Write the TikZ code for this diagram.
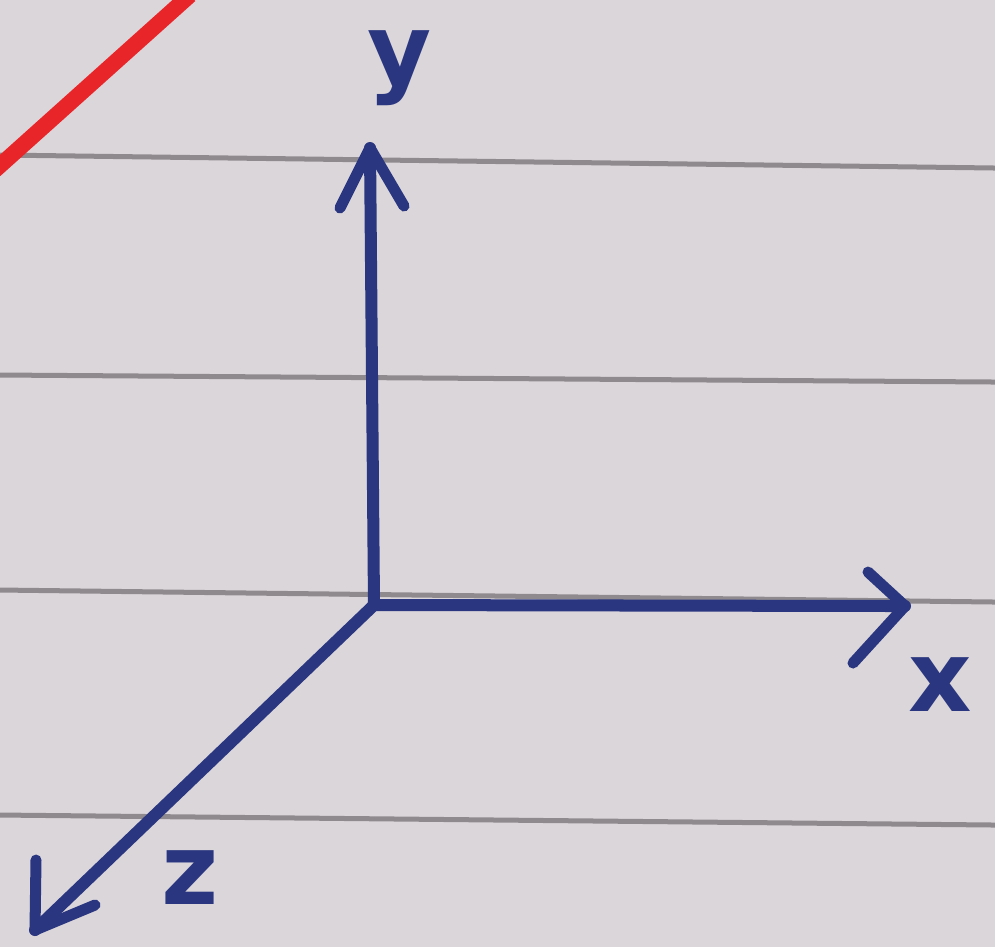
\documentclass[tikz,border=0pt]{standalone}
\usepackage{fontspec}
\setmainfont{DejaVu Sans}
\definecolor{paper}{HTML}{DAD6DA}
\definecolor{rule}{HTML}{8E8A8E}
\definecolor{ink}{HTML}{2A3680}
\definecolor{redline}{HTML}{E8262A}
\begin{document}
\begin{tikzpicture}[x=0.01cm,y=-0.01cm,
  axis/.style={draw=ink,line width=1.2mm,line cap=round,line join=round},
  barb/.style={draw=ink,line width=1.1mm,line cap=round,line join=round},
  ruled/.style={draw=rule,line width=0.5mm},
  lbl/.style={text=ink,font=\fontsize{28}{28}\selectfont\bfseries,inner sep=0pt}]
\fill[paper] (0,0) rectangle (995,947);
\useasboundingbox (0,0) rectangle (995,947);
% ruled lines
\draw[ruled] (0,155) -- (995,168);
\draw[ruled] (0,375) -- (995,382);
\draw[ruled] (0,590) -- (995,602);
\draw[ruled] (0,815) -- (995,825);
% red margin line
\draw[redline,line width=1.6mm] (-5,170) -- (190,-5);
% axes
\coordinate (O) at (374,605);
\coordinate (Y) at (370,148);
\coordinate (X) at (905,606);
\coordinate (Z) at (35,930);
\path[axis] (O) -- (Y);
\path[axis] (O) -- (X);
\path[axis] (O) -- (Z);
% arrowheads
\coordinate (Ya) at (340,208);
\coordinate (Yb) at (404,206);
\coordinate (Xa) at (868,572);
\coordinate (Xb) at (853,663);
\coordinate (Za) at (36,860);
\coordinate (Zb) at (95,905);
\path[barb] (Ya) -- (Y) -- (Yb);
\path[barb] (Xa) -- (X) -- (Xb);
\path[barb] (Za) -- (Z) -- (Zb);
% labels
\node[lbl] (ly) at (400,68) {y};
\node[lbl] (lx) at (940,685) {x};
\node[lbl] (lz) at (190,878) {z};
\end{tikzpicture}
\end{document}
